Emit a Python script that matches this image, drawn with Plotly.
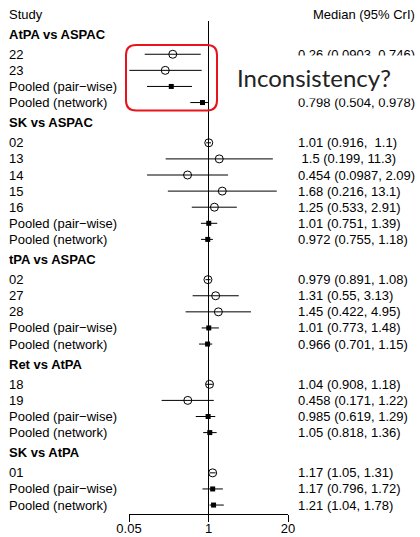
import plotly.graph_objects as go

# ---------------- data ----------------
groups = ["AtPA vs ASPAC", "SK vs ASPAC", "tPA vs ASPAC", "Ret vs AtPA", "SK vs AtPA"]

study_labels = [
    ["22", "23", "Pooled (pair\u2212wise)", "Pooled (network)"],
    ["02", "13", "14", "15", "16", "Pooled (pair\u2212wise)", "Pooled (network)"],
    ["02", "27", "28", "Pooled (pair\u2212wise)", "Pooled (network)"],
    ["18", "19", "Pooled (pair\u2212wise)", "Pooled (network)"],
    ["01", "Pooled (pair\u2212wise)", "Pooled (network)"],
]
medians = [
    [0.26, 0.196, 0.246, 0.798],
    [1.01, 1.5, 0.454, 1.68, 1.25, 1.01, 0.972],
    [0.979, 1.31, 1.45, 1.01, 0.966],
    [1.04, 0.458, 0.985, 1.05],
    [1.17, 1.17, 1.21],
]
lowers = [
    [0.0903, 0.0506, 0.0985, 0.504],
    [0.916, 0.199, 0.0987, 0.216, 0.533, 0.751, 0.755],
    [0.891, 0.55, 0.422, 0.773, 0.701],
    [0.908, 0.171, 0.619, 0.818],
    [1.05, 0.796, 1.04],
]
uppers = [
    [0.746, 0.774, 0.537, 0.978],
    [1.1, 11.3, 2.09, 13.1, 2.91, 1.39, 1.18],
    [1.08, 3.13, 4.95, 1.48, 1.15],
    [1.18, 1.22, 1.29, 1.36],
    [1.31, 1.72, 1.78],
]
value_text = [
    ["0.26 (0.0903, 0.746)", "0.196 (0.0506, 0.774)", "0.246 (0.0985, 0.537)", "0.798 (0.504, 0.978)"],
    ["1.01 (0.916, \u00a01.1)", "\u00a01.5 (0.199, 11.3)", "0.454 (0.0987, 2.09)", "1.68 (0.216, 13.1)",
     "1.25 (0.533, 2.91)", "1.01 (0.751, 1.39)", "0.972 (0.755, 1.18)"],
    ["0.979 (0.891, 1.08)", "1.31 (0.55, 3.13)", "1.45 (0.422, 4.95)", "1.01 (0.773, 1.48)", "0.966 (0.701, 1.15)"],
    ["1.04 (0.908, 1.18)", "0.458 (0.171, 1.22)", "0.985 (0.619, 1.29)", "1.05 (0.818, 1.36)"],
    ["1.17 (1.05, 1.31)", "1.17 (0.796, 1.72)", "1.21 (1.04, 1.78)"],
]
tick_vals = [0.05, 1, 20]
tick_text = ["0.05", "1", "20"]

# ---------------- layout geometry ----------------
W, H = 420, 537
PX0, PX1 = 129, 288          # pixel x of 0.05 and 20
ROW_PX = 16.1                # pixels per row
TOP_PX = 14                  # pixel y of the "Study" header row
AXIS_PX = 514                # pixel y of the x-axis line
FONT = "Liberation Sans, Arial, sans-serif"
FS = 13

def px_to_paper_x(p):
    return (p - PX0) / (PX1 - PX0)

def py_to_paper_y(p):
    return 1 - p / AXIS_PX

y_top = -TOP_PX / ROW_PX
y_bottom = (AXIS_PX - TOP_PX) / ROW_PX

annotations = []
ci_x, ci_y = [], []
st_x, st_y = [], []
pl_x, pl_y = [], []

annotations.append(dict(x=px_to_paper_x(7), y=0, xref="paper", yref="y", text="Study",
                        xanchor="left", yanchor="middle", showarrow=False,
                        font=dict(family=FONT, size=FS, color="black")))
annotations.append(dict(x=px_to_paper_x(417), y=0, xref="paper", yref="y", text="Median (95% CrI)",
                        xanchor="right", yanchor="middle", showarrow=False,
                        font=dict(family=FONT, size=FS, color="black")))

pos = 0.0
for g, grp in enumerate(groups):
    pos += 1.25
    annotations.append(dict(x=px_to_paper_x(7), y=pos, xref="paper", yref="y", text="<b>" + grp + "</b>",
                            xanchor="left", yanchor="middle", showarrow=False,
                            font=dict(family=FONT, size=FS, color="black")))
    for i, lab in enumerate(study_labels[g]):
        pos += 1.25 if i == 0 else 1.0
        annotations.append(dict(x=px_to_paper_x(7), y=pos, xref="paper", yref="y", text=lab,
                                xanchor="left", yanchor="middle", showarrow=False,
                                font=dict(family=FONT, size=FS, color="black")))
        annotations.append(dict(x=px_to_paper_x(296), y=pos, xref="paper", yref="y", text=value_text[g][i],
                                xanchor="left", yanchor="middle", showarrow=False,
                                font=dict(family=FONT, size=FS, color="black")))
        ci_x += [lowers[g][i], uppers[g][i], None]
        ci_y += [pos, pos, None]
        if lab.startswith("Pooled"):
            pl_x.append(medians[g][i]); pl_y.append(pos)
        else:
            st_x.append(medians[g][i]); st_y.append(pos)

fig = go.Figure()
fig.add_trace(go.Scatter(x=[1, 1], y=[(21 - TOP_PX) / ROW_PX, y_bottom], mode="lines",
                         line=dict(color="black", width=1), hoverinfo="skip"))
fig.add_trace(go.Scatter(x=ci_x, y=ci_y, mode="lines", line=dict(color="black", width=1),
                         hoverinfo="skip"))
fig.add_trace(go.Scatter(x=st_x, y=st_y, mode="markers", cliponaxis=False,
                         marker=dict(symbol="circle-open", size=8, color="black", line=dict(width=1))))
fig.add_trace(go.Scatter(x=pl_x, y=pl_y, mode="markers", cliponaxis=False,
                         marker=dict(symbol="square", size=5, color="black", line=dict(width=0))))

# white box hiding part of the text + inconsistency note
annotations.append(dict(x=px_to_paper_x(321), y=py_to_paper_y(76.5), xref="paper", yref="paper",
                        text="\u00a0", width=198, height=42, borderpad=0, bgcolor="white",
                        xanchor="center", yanchor="middle", showarrow=False))
annotations.append(dict(x=px_to_paper_x(313.5), y=py_to_paper_y(77), xref="paper", yref="paper",
                        text="Inconsistency?", xanchor="center", yanchor="middle", showarrow=False,
                        font=dict(family="Lato, sans-serif", size=24, color="#222222")))

# rounded red rectangle
x0, x1 = px_to_paper_x(126), px_to_paper_x(217)
ya, yb = py_to_paper_y(45), py_to_paper_y(110.5)
rx = 10 / (PX1 - PX0)
ry = 10 / AXIS_PX
path = (f"M {x0 + rx},{ya} L {x1 - rx},{ya} Q {x1},{ya} {x1},{ya - ry} "
        f"L {x1},{yb + ry} Q {x1},{yb} {x1 - rx},{yb} "
        f"L {x0 + rx},{yb} Q {x0},{yb} {x0},{yb + ry} "
        f"L {x0},{ya - ry} Q {x0},{ya} {x0 + rx},{ya} Z")
shapes = [dict(type="path", path=path, xref="paper", yref="paper",
               line=dict(color="#e8141c", width=2), layer="above")]

fig.update_layout(
    template="none",
    width=W, height=H,
    margin=dict(l=PX0, r=W - PX1, t=0, b=H - AXIS_PX, pad=0, autoexpand=False),
    paper_bgcolor="white", plot_bgcolor="white",
    showlegend=False,
    annotations=annotations,
    shapes=shapes,
    xaxis=dict(type="log", range=[-1.30103, 1.30103], tickvals=tick_vals, ticktext=tick_text,
               automargin=False, ticklabelstandoff=-5,
               showgrid=False, zeroline=False, showline=True, linecolor="black", linewidth=1,
               ticks="outside", ticklen=7, tickcolor="black", tickwidth=1,
               tickfont=dict(family=FONT, size=FS, color="black")),
    yaxis=dict(range=[y_bottom, y_top], visible=False, showgrid=False, zeroline=False,
               automargin=False),
)

fig.write_html("out.html",
               config={"displayModeBar": False},
               post_script="document.body.style.margin='0';document.body.style.overflow='hidden';")
